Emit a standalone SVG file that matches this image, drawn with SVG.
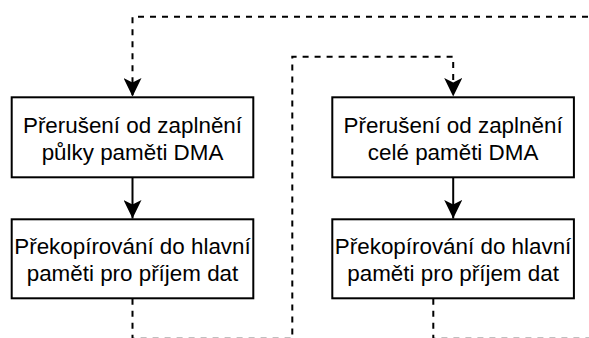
<svg xmlns="http://www.w3.org/2000/svg" width="589" height="338" viewBox="0 0 589 338">
  <style>
    .box rect { fill: #ffffff; stroke: #000000; stroke-width: 2; }
    .box text { font-family: "Liberation Sans", Arial, Helvetica, sans-serif; font-size: 22.4px; fill: #000000; text-anchor: middle; }
    .flow { fill: none; stroke: #000000; stroke-width: 2; }
    .dash { stroke-dasharray: 6 6; }
  </style>
  <defs>
    <marker id="arrow" viewBox="0 0 19 18" refX="18.5" refY="9" markerWidth="19" markerHeight="18" markerUnits="userSpaceOnUse" orient="auto">
      <path d="M18.5,9 L0,0 L4.5,9 L0,18 Z" fill="#000000"/>
    </marker>
  </defs>

  <!-- connectors -->
  <g id="connectors">
    <!-- half-buffer interrupt -> copy -->
    <path class="flow" d="M132.5,177.3 L132.5,218.5" marker-end="url(#arrow)"/>
    <!-- full-buffer interrupt -> copy -->
    <path class="flow" d="M453.2,177.3 L453.2,218.5" marker-end="url(#arrow)"/>
    <!-- loop back into the half-buffer interrupt -->
    <path class="flow dash" d="M600,16.7 L132.5,16.7 L132.5,96.5" marker-end="url(#arrow)"/>
    <!-- from first copy step into the full-buffer interrupt -->
    <path class="flow dash" d="M132.5,298.8 L132.5,338.7 L292.3,338.7 L292.3,56.7 L453.2,56.7 L453.2,96.5" marker-end="url(#arrow)"/>
    <!-- from second copy step onwards -->
    <path class="flow dash" d="M433.3,298.8 L433.3,338.7 L600,338.7"/>
  </g>

  <!-- left column -->
  <g id="half-interrupt" class="box">
    <rect x="11.7" y="97.3" width="241.6" height="80"/>
    <text x="132.5" y="132.6">Přerušení od zaplnění</text>
    <text x="132.5" y="159.5">půlky paměti DMA</text>
  </g>
  <g id="half-copy" class="box">
    <rect x="11.7" y="219.3" width="241.6" height="79"/>
    <text x="132.5" y="254">Překopírování do hlavní</text>
    <text x="132.5" y="280.9">paměti pro příjem dat</text>
  </g>

  <!-- right column -->
  <g id="full-interrupt" class="box">
    <rect x="332.3" y="97.3" width="241.6" height="80"/>
    <text x="453.1" y="132.6">Přerušení od zaplnění</text>
    <text x="453.1" y="159.5">celé paměti DMA</text>
  </g>
  <g id="full-copy" class="box">
    <rect x="332.3" y="219.3" width="241.6" height="79"/>
    <text x="453.1" y="254">Překopírování do hlavní</text>
    <text x="453.1" y="280.9">paměti pro příjem dat</text>
  </g>
</svg>
